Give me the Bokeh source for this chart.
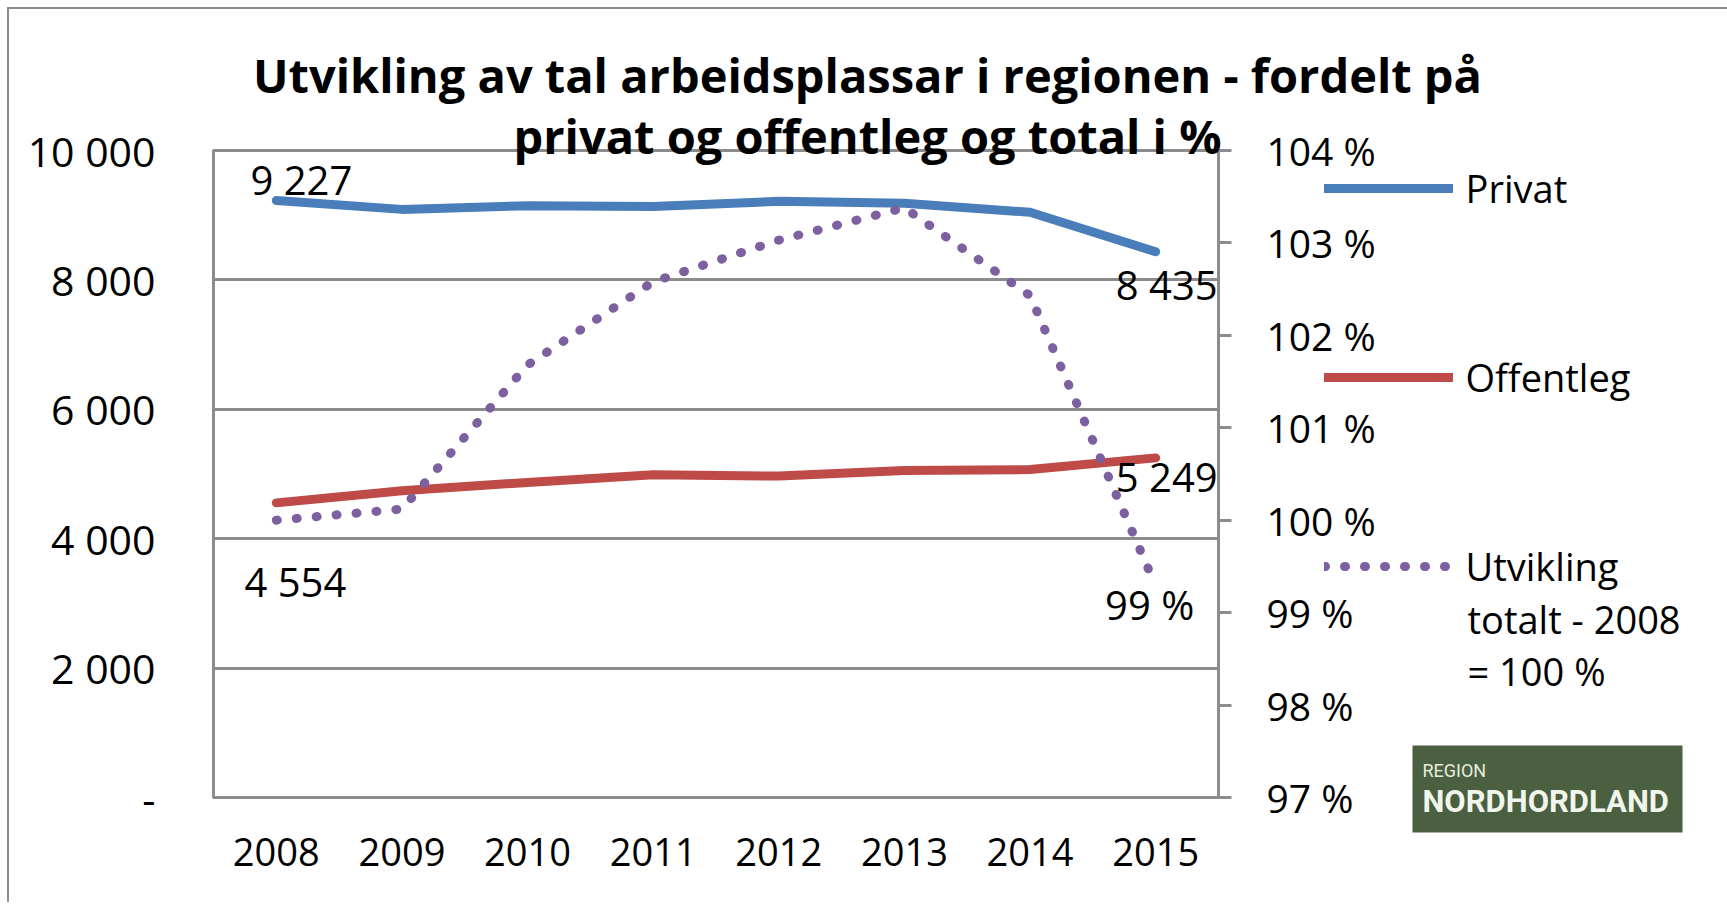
from bokeh.plotting import figure
from bokeh.models import (FactorRange, Range1d, LinearAxis, FixedTicker, PrintfTickFormatter,
                          Label, LabelSet, Legend, LegendItem, BoxAnnotation, ColumnDataSource)
from bokeh.core.properties import value
from bokeh.embed import file_html
from bokeh.resources import INLINE

# ---------------- data ----------------
years = ["2008", "2009", "2010", "2011", "2012", "2013", "2014", "2015"]
privat = [9227, 9090, 9145, 9135, 9215, 9185, 9045, 8435]
offentleg = [4554, 4740, 4870, 4990, 4968, 5055, 5068, 5249]
utvikling = [100.0, 100.12, 101.68, 102.58, 103.03, 103.38, 102.43, 99.29]

left_ticks = [0, 2000, 4000, 6000, 8000, 10000]
left_tick_labels = ["-", "2 000", "4 000", "6 000", "8 000", "10 000"]
right_ticks = [97, 98, 99, 100, 101, 102, 103, 104]

title_lines = ["Utvikling av tal arbeidsplassar i regionen - fordelt på",
               "privat og offentleg og total i %"]
legend_privat = "Privat"
legend_offentleg = "Offentleg"
legend_utvikling = ["Utvikling", "totalt - 2008", "= 100 %"]
logo_small = "REGION"
logo_big = "NORDHORDLAND"

# ---------------- style ----------------
FONT = "Open Sans"
GRAY = "#8c8c8c"
BLUE = "#4A7EBB"
RED = "#BE4B48"
PURPLE = "#7D60A0"
W, H = 1716, 893

p = figure(x_range=FactorRange(*years), y_range=Range1d(0, 10000),
           width=W, height=H, frame_width=1005, frame_height=647,
           min_border_left=204, min_border_right=507, min_border_top=141, min_border_bottom=105,
           output_backend="svg", toolbar_location=None, tools="")
p.styles = {"margin": "7px 0px 0px 7px",
            "border-left": f"2px solid {GRAY}", "border-top": f"2px solid {GRAY}",
            "border-right": f"2px solid {GRAY}"}
p.background_fill_color = "white"
p.border_fill_color = "white"
p.outline_line_color = GRAY
p.outline_line_width = 3

p.extra_y_ranges = {"pct": Range1d(97, 104)}

# grid
p.xgrid.visible = False
p.ygrid.ticker = FixedTicker(ticks=left_ticks)
p.ygrid.grid_line_color = GRAY
p.ygrid.grid_line_width = 3

# left axis
ya = p.yaxis[0]
ya.ticker = FixedTicker(ticks=left_ticks)
ya.major_label_overrides = {t: l for t, l in zip(left_ticks, left_tick_labels)}
ya.major_tick_line_color = None
ya.minor_tick_line_color = None
ya.axis_line_color = GRAY
ya.axis_line_width = 3
ya.major_label_standoff = 52
ya.major_label_text_font = FONT
ya.major_label_text_font_size = "41px"
ya.major_label_text_color = "black"

# bottom axis
xa = p.xaxis[0]
xa.major_tick_line_color = None
xa.axis_line_color = GRAY
xa.axis_line_width = 3
xa.major_label_standoff = 34
xa.major_label_text_font = FONT
xa.major_label_text_font_size = "38px"
xa.major_label_text_color = "black"

# right axis
ra = LinearAxis(y_range_name="pct", ticker=FixedTicker(ticks=right_ticks),
                formatter=PrintfTickFormatter(format="%d %%"))
ra.axis_line_color = GRAY
ra.axis_line_width = 3
ra.major_tick_line_color = GRAY
ra.major_tick_line_width = 3
ra.major_tick_in = 0
ra.major_tick_out = 13
ra.minor_tick_line_color = None
ra.major_label_standoff = 35
ra.major_label_text_font = FONT
ra.major_label_text_font_size = "39px"
ra.major_label_text_color = "black"
p.add_layout(ra, "right")

# series
r_priv = p.line(years, privat, line_color=BLUE, line_width=9, line_cap="round", line_join="round")
r_off = p.line(years, offentleg, line_color=RED, line_width=9, line_cap="round", line_join="round")
r_utv = p.line(years, utvikling, y_range_name="pct", line_color=PURPLE, line_width=9,
               line_cap="round", line_join="round", line_dash="1 19")

# data labels
def fmt(v):
    return f"{v:,}".replace(",", " ")

lab_src = ColumnDataSource(dict(
    x=[years[0], years[-1], years[0], years[-1]],
    y=[privat[0], privat[-1], offentleg[0], offentleg[-1]],
    text=[fmt(privat[0]), fmt(privat[-1]), fmt(offentleg[0]), fmt(offentleg[-1])],
    dx=[25, 11, 19, 11],
    dy=[21, -33, -79, -19],
))
p.add_layout(LabelSet(x="x", y="y", text="text", source=lab_src, x_offset="dx", y_offset="dy",
                      text_font=value(FONT), text_font_size=value("40px"), text_align="center",
                      text_baseline="middle", text_color="black"))
pct_src = ColumnDataSource(dict(x=[years[-1]], y=[utvikling[-1]],
                                text=[f"{round(utvikling[-1]):d} %"]))
p.add_layout(LabelSet(x="x", y="y", text="text", source=pct_src, y_range_name="pct",
                      x_offset=-6, y_offset=-19, text_font=value(FONT), text_font_size=value("40px"),
                      text_align="center", text_baseline="middle", text_color="black"))

# legend in the right side panel (next to the % axis)
legend = Legend(items=[LegendItem(label=legend_privat, renderers=[r_priv]),
                       LegendItem(label=legend_offentleg, renderers=[r_off]),
                       LegendItem(label=legend_utvikling[0], renderers=[r_utv])],
                location=(-242, 201), orientation="vertical",
                glyph_width=129, glyph_height=60, label_height=60, spacing=129,
                label_standoff=13, padding=0, margin=0,
                label_text_font=FONT, label_text_font_size="38px", label_text_color="black",
                border_line_alpha=0, background_fill_alpha=0)
p.add_layout(legend, "right")

# ---------------- overlay (title, legend continuation, logo) ----------------
ov = figure(width=W, height=H, x_range=Range1d(0, 1), y_range=Range1d(0, 1),
            x_axis_type=None, y_axis_type=None, min_border=0,
            output_backend="svg", toolbar_location=None, tools="")
ov.styles = {"position": "absolute", "left": "9px", "top": "9px", "pointer-events": "none"}
ov.outline_line_color = None
ov.background_fill_alpha = 0
ov.border_fill_alpha = 0

for txt, yy in zip(title_lines, [828, 767]):
    ov.add_layout(Label(x=858, y=yy, x_units="screen", y_units="screen", text=txt,
                        text_font=FONT, text_font_style="bold", text_font_size="47px",
                        text_align="center", text_baseline="alphabetic", text_color="black"))

for txt, yy in zip(legend_utvikling[1:], [284, 232]):
    ov.add_layout(Label(x=1458, y=yy, x_units="screen", y_units="screen", text=txt,
                        text_font=FONT, text_font_size="38px", text_align="left",
                        text_baseline="middle", text_color="black"))

ov.add_layout(BoxAnnotation(left=1403, right=1673, top=157, bottom=70,
                            left_units="screen", right_units="screen",
                            top_units="screen", bottom_units="screen",
                            fill_color="#4B5F41", fill_alpha=1, line_color=None))
ov.add_layout(Label(x=1413, y=132, x_units="screen", y_units="screen", text=logo_small,
                    text_font="Roboto", text_font_size="18px", text_color="#E6EEDC",
                    text_align="left", text_baseline="middle"))
ov.add_layout(Label(x=1413, y=101, x_units="screen", y_units="screen", text=logo_big,
                    text_font="Roboto", text_font_style="bold", text_font_size="31px",
                    text_color="#F0F6EC", text_align="left", text_baseline="middle"))

open("out.html", "w").write(file_html([p, ov], INLINE))
